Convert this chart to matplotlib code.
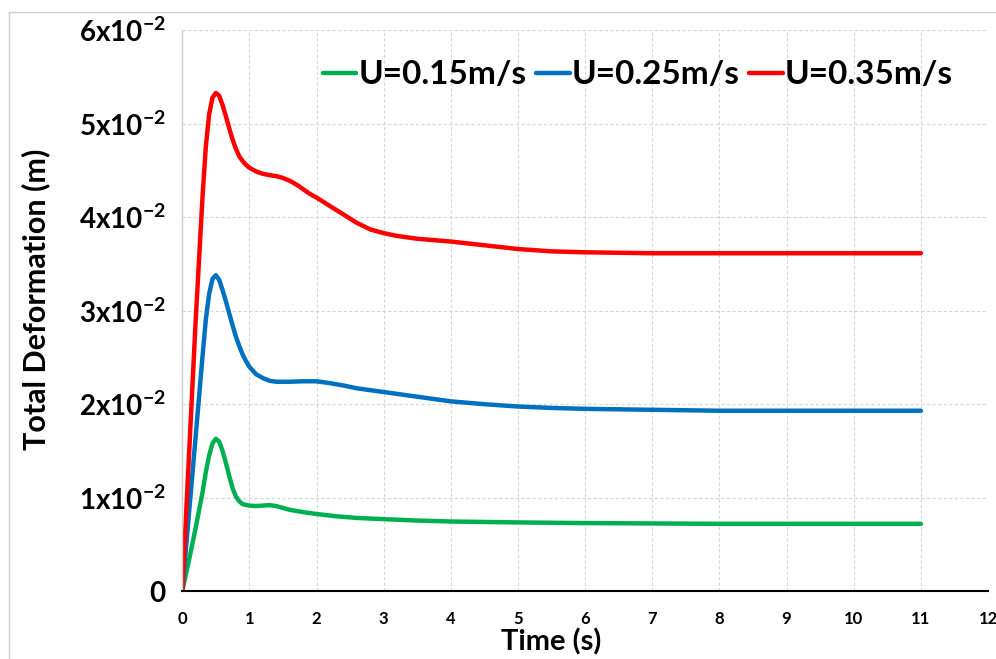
import matplotlib.pyplot as plt
from matplotlib.lines import Line2D
import numpy as np

plt.rcParams['font.family'] = ['Lato', 'DejaVu Sans']
plt.rcParams['mathtext.fontset'] = 'custom'
plt.rcParams['mathtext.rm'] = 'Lato'
plt.rcParams['mathtext.bf'] = 'Lato:bold'

# time (s) and deformation (x1e-2 m)
t_green = [0, 0.1, 0.2, 0.3, 0.35, 0.4, 0.45, 0.5, 0.55, 0.6, 0.65, 0.7, 0.75, 0.8, 0.85, 0.9,
           1.0, 1.1, 1.2, 1.3, 1.4, 1.5, 1.6, 1.8, 2.0, 2.3, 2.6, 3, 3.5, 4, 5, 6, 7, 8, 9, 10, 11]
v_green = [0, 0.33, 0.68, 1.05, 1.27, 1.45, 1.58, 1.63, 1.6, 1.5, 1.37, 1.23, 1.1, 1.01, 0.96, 0.93,
           0.915, 0.91, 0.915, 0.92, 0.91, 0.89, 0.87, 0.845, 0.825, 0.8, 0.783, 0.77, 0.755, 0.745,
           0.735, 0.728, 0.724, 0.72, 0.72, 0.72, 0.72]

t_blue = [0, 0.1, 0.2, 0.3, 0.35, 0.4, 0.45, 0.5, 0.55, 0.6, 0.65, 0.7, 0.75, 0.8, 0.85, 0.9,
          0.95, 1.0, 1.1, 1.2, 1.3, 1.4, 1.6, 1.8, 2.0, 2.2, 2.4, 2.6, 2.8, 3.0, 3.5, 4, 4.5, 5,
          5.5, 6, 7, 8, 9, 10, 11]
v_blue = [0, 0.83, 1.66, 2.5, 2.9, 3.18, 3.34, 3.38, 3.33, 3.22, 3.1, 2.97, 2.84, 2.72, 2.62, 2.53,
          2.46, 2.4, 2.32, 2.28, 2.25, 2.24, 2.24, 2.245, 2.245, 2.225, 2.2, 2.17, 2.15, 2.13, 2.08,
          2.03, 2.0, 1.975, 1.96, 1.95, 1.94, 1.93, 1.93, 1.93, 1.93]

t_red = [0, 0.1, 0.2, 0.3, 0.35, 0.4, 0.45, 0.5, 0.55, 0.6, 0.65, 0.7, 0.75, 0.8, 0.85, 0.9,
         0.95, 1.0, 1.1, 1.2, 1.3, 1.4, 1.5, 1.6, 1.7, 1.8, 1.9, 2.0, 2.2, 2.4, 2.6, 2.8, 3.0,
         3.2, 3.5, 4, 4.5, 5, 5.5, 6, 7, 8, 9, 10, 11]
v_red = [0, 1.45, 2.9, 4.2, 4.75, 5.1, 5.28, 5.33, 5.3, 5.2, 5.08, 4.95, 4.83, 4.73, 4.65, 4.6,
         4.56, 4.53, 4.49, 4.465, 4.45, 4.44, 4.42, 4.39, 4.35, 4.3, 4.25, 4.21, 4.12, 4.03, 3.94,
         3.87, 3.83, 3.8, 3.77, 3.74, 3.7, 3.66, 3.635, 3.625, 3.615, 3.615, 3.615, 3.615, 3.615]

labels = ['U=0.15m/s', 'U=0.25m/s', 'U=0.35m/s']
colors = ['#00B050', '#0070C0', '#FF0000']

y_ticks = [0, 1, 2, 3, 4, 5, 6]
y_ticklabels = ['0'] + [r'$\mathbf{%dx10^{-2}}$' % k for k in y_ticks[1:]]
x_ticks = list(range(0, 13))

fig = plt.figure(figsize=(9.96, 6.59), dpi=100)
ax = fig.add_axes([0.183, 0.103, 0.809, 0.851])

series = [(t_green, v_green), (t_blue, v_blue), (t_red, v_red)]
for (t, v), c, lab in zip(series, colors, labels):
    ax.plot(t, np.array(v) * 1e-2, color=c, lw=3.2, label=lab,
            solid_capstyle='round', solid_joinstyle='round')

ax.set_xlim(0, 12)
ax.set_ylim(0, 0.06)
ax.set_xticks(x_ticks)
ax.set_xticklabels([str(x) for x in x_ticks], fontsize=12, fontweight='bold')
ax.set_yticks(np.array(y_ticks) * 1e-2)
ax.set_yticklabels(y_ticklabels, fontsize=20, fontweight='bold')
ax.tick_params(axis='both', length=0)
ax.tick_params(axis='x', pad=14)
ax.tick_params(axis='y', pad=12)

ax.grid(True, color='#d6d6d6', linestyle=(0, (3, 2)), linewidth=0.8)
ax.set_axisbelow(True)
for s in ['top', 'right']:
    ax.spines[s].set_visible(False)
ax.spines['left'].set_color('#d0d0d0')
ax.spines['left'].set_linewidth(1.0)
ax.spines['bottom'].set_color('black')
ax.spines['bottom'].set_linewidth(1.5)

ax.set_xlabel('Time (s)', fontsize=21, fontweight='bold')
ax.xaxis.set_label_coords(0.458, -0.067)
ax.set_ylabel('Total Deformation (m)', fontsize=22, fontweight='bold')
ax.yaxis.set_label_coords(-0.164, 0.52)

leg = ax.legend(loc='upper right', bbox_to_anchor=(0.993, 1.0), ncol=3, frameon=False,
                handlelength=1.0, handletextpad=0.05, columnspacing=0.3,
                prop={'weight': 'bold', 'size': 24})

# light frame of the original picture
fig.add_artist(Line2D([0.009, 1.0], [1 - 12 / 659, 1 - 12 / 659], color='#d0d0d0', lw=1.0))
fig.add_artist(Line2D([0.009, 0.009], [0, 1 - 12 / 659], color='#d0d0d0', lw=1.0))

fig.savefig('out.png', dpi=100)
